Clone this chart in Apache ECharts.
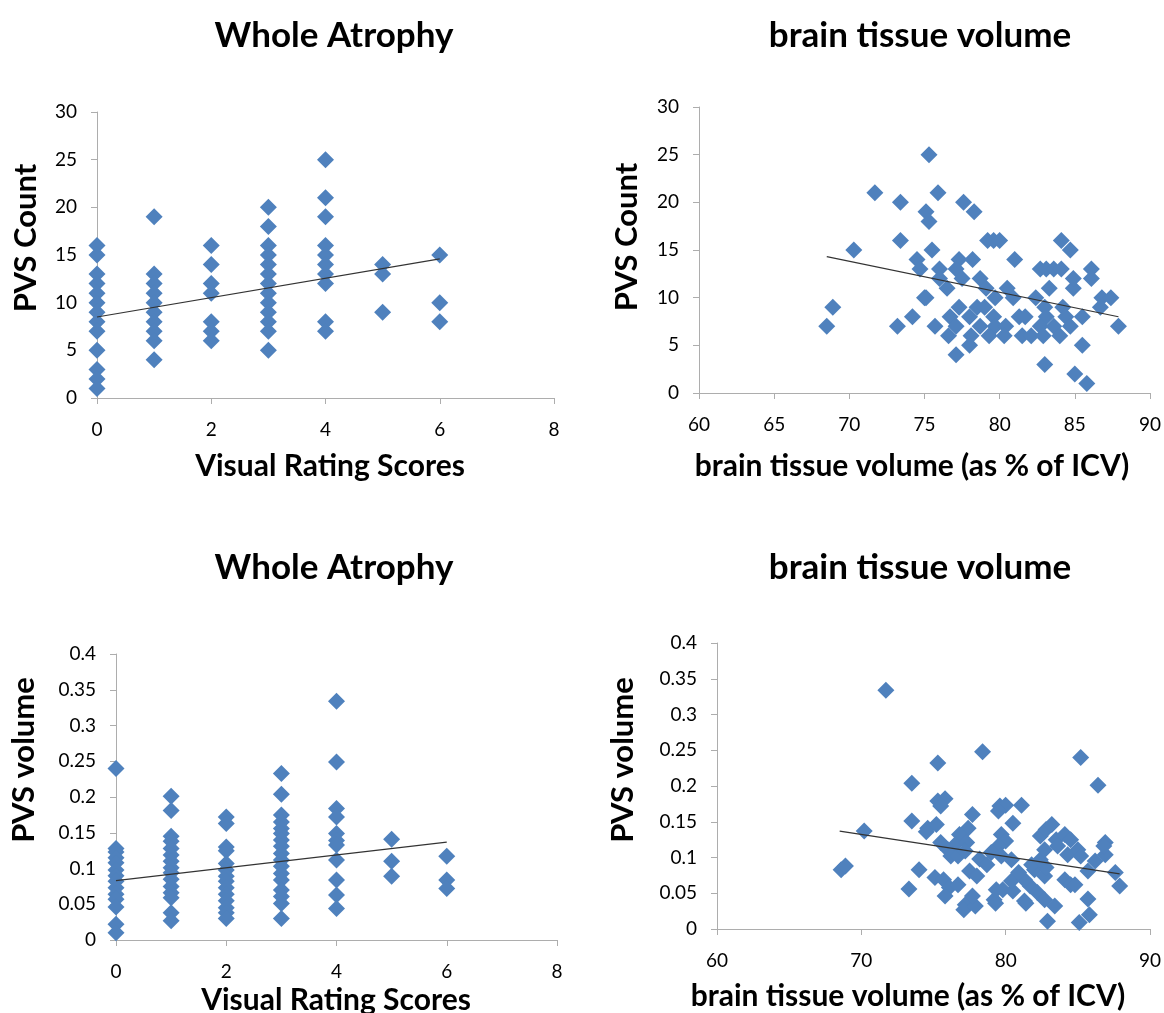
<!DOCTYPE html>
<html>
<head>
<meta charset="utf-8">
<script src="https://cdn.jsdelivr.net/npm/echarts@6/dist/echarts.min.js"></script>
<style>
html,body{margin:0;padding:0;background:#fff;}
#chart{width:1164px;height:1013px;}
</style>
</head>
<body>
<div id="chart"></div>
<script>
// ---- Panel titles / axis titles ----
const panelTitles = ['Whole Atrophy', 'brain tissue volume', 'Whole Atrophy', 'brain tissue volume'];
const xTitles = ['Visual Rating Scores', 'brain tissue volume (as % of ICV)', 'Visual Rating Scores', 'brain tissue volume (as % of ICV)'];
const yTitles = ['PVS Count', 'PVS Count', 'PVS volume', 'PVS volume'];

// ---- Top-left: PVS Count vs Visual Rating Scores ----
const countByRating = [
  [0,16],[0,15],[0,13],[0,12],[0,11],[0,10],[0,9],[0,8],[0,7],[0,5],[0,3],[0,2],[0,1],
  [1,19],[1,13],[1,12],[1,11],[1,10],[1,9],[1,8],[1,7],[1,6],[1,4],
  [2,16],[2,14],[2,12],[2,11],[2,8],[2,7],[2,6],
  [3,20],[3,18],[3,16],[3,15],[3,14],[3,13],[3,12],[3,11],[3,10],[3,9],[3,8],[3,7],[3,5],
  [4,25],[4,21],[4,19],[4,16],[4,15],[4,14],[4,13],[4,12],[4,8],[4,7],
  [5,14],[5,13],[5,9],
  [6,15],[6,10],[6,8]
];
const countByRatingTrend = [[0,8.5],[6,14.6]];

// ---- Top-right: PVS Count vs brain tissue volume ----
const countByBTV = [
  [68.5,7],[68.9,9],[70.3,15],[71.7,21],[73.2,7],[73.4,20],[73.4,16],[74.2,8],
  [74.5,14],[74.7,13],[75.0,10],[75.1,10],[75.3,25],[75.1,19],[75.3,18],[75.5,15],[75.9,21],[75.7,7],
  [76.0,13],[76.0,12],[76.5,11],[76.6,6],[77.1,4],[77.6,20],[78.3,19],
  [77.3,14],[78.2,14],[81.0,14],
  [77.1,13],[77.5,12],[78.7,12],
  [79.1,11],[80.5,11],[83.3,11],[84.9,11],
  [79.2,16],[79.6,16],[80.0,16],[84.1,16],[84.7,15],
  [82.7,13],[83.1,13],[83.6,13],[84.1,13],[86.1,13],[84.9,12],[86.1,12],
  [79.7,10],[80.9,10],[82.4,10],[86.8,10],[87.4,10],
  [77.3,9],[78.5,9],[79.0,9],[83.0,9],[84.2,9],[86.7,9],
  [76.7,8],[78.0,8],[79.6,8],[81.3,8],[81.7,8],[83.1,8],[84.4,8],[85.5,8],
  [77.1,7],[78.7,7],[79.7,7],[80.4,7],[82.7,7],[83.6,7],[84.7,7],[87.9,7],
  [78.1,6],[79.3,6],[80.3,6],[81.5,6],[82.1,6],[82.9,6],[84.0,6],
  [78.0,5],[85.5,5],[83.0,3],[85.0,2],[85.8,1]
];
const countByBTVTrend = [[68.5,14.3],[87.9,8.0]];

// ---- Bottom-left: PVS volume vs Visual Rating Scores ----
const volumeByRating = [
  [0,0.24],[0,0.128],[0,0.123],[0,0.115],[0,0.108],[0,0.098],[0,0.09],[0,0.082],[0,0.073],[0,0.064],[0,0.057],[0,0.046],[0,0.022],[0,0.01],
  [1,0.201],[1,0.181],[1,0.145],[1,0.138],[1,0.128],[1,0.119],[1,0.11],[1,0.101],[1,0.094],[1,0.085],[1,0.075],[1,0.066],[1,0.059],[1,0.038],[1,0.027],
  [2,0.172],[2,0.163],[2,0.13],[2,0.125],[2,0.107],[2,0.098],[2,0.089],[2,0.082],[2,0.073],[2,0.064],[2,0.055],[2,0.045],[2,0.038],[2,0.03],
  [3,0.233],[3,0.204],[3,0.175],[3,0.165],[3,0.156],[3,0.149],[3,0.14],[3,0.131],[3,0.121],[3,0.112],[3,0.103],[3,0.093],[3,0.084],[3,0.07],[3,0.061],[3,0.051],[3,0.03],
  [4,0.334],[4,0.249],[4,0.184],[4,0.172],[4,0.149],[4,0.139],[4,0.133],[4,0.112],[4,0.084],[4,0.063],[4,0.044],
  [5,0.141],[5,0.11],[5,0.089],
  [6,0.117],[6,0.084],[6,0.072]
];
const volumeByRatingTrend = [[0,0.083],[6,0.137]];

// ---- Bottom-right: PVS volume vs brain tissue volume ----
const volumeByBTV = [
  [71.7,0.334],[68.6,0.083],[68.9,0.088],[70.2,0.137],[73.5,0.204],[73.5,0.151],[73.3,0.056],[74.0,0.083],
  [75.3,0.232],[78.4,0.248],[85.2,0.240],[86.4,0.201],
  [75.3,0.179],[75.8,0.182],[75.5,0.172],
  [74.6,0.141],[75.2,0.146],[74.5,0.136],[77.7,0.160],
  [79.6,0.172],[80.0,0.173],[81.1,0.173],[79.5,0.165],[80.5,0.148],
  [77.4,0.141],[76.8,0.132],[76.5,0.118],[75.5,0.121],[76.0,0.111],[76.2,0.102],
  [77.3,0.121],[76.7,0.102],[77.2,0.109],
  [79.7,0.132],[80.0,0.123],[79.5,0.116],[79.0,0.107],[79.7,0.102],[80.4,0.097],
  [78.2,0.098],[78.7,0.090],[77.5,0.081],[78.0,0.074],
  [75.1,0.072],[75.7,0.069],[76.1,0.058],[76.7,0.062],[75.8,0.046],
  [77.2,0.034],[77.1,0.027],[77.9,0.032],[77.7,0.046],
  [79.2,0.041],[79.3,0.036],[79.8,0.055],[79.35,0.055],[80.5,0.053],[80.4,0.067],
  [81.3,0.039],[81.4,0.036],[81.7,0.060],[81.3,0.069],[80.9,0.079],[82.0,0.083],[81.8,0.090],
  [82.2,0.051],[82.7,0.041],[83.4,0.032],[82.9,0.011],
  [82.7,0.074],[82.8,0.086],[82.4,0.097],
  [82.4,0.130],[82.8,0.139],[83.2,0.146],[83.5,0.125],[84.1,0.132],[84.5,0.125],
  [82.7,0.111],[83.6,0.116],[84.3,0.104],[85.0,0.111],[85.2,0.102],
  [84.1,0.069],[84.5,0.062],[84.8,0.062],[85.7,0.042],[85.1,0.009],[85.8,0.020],
  [85.7,0.081],[86.2,0.095],[86.9,0.121],[86.9,0.104],[86.8,0.116],[87.6,0.079],[87.9,0.060]
];
const volumeByBTVTrend = [[68.5,0.137],[87.9,0.077]];

// ---- Axis ranges / tick labels ----
const ratingAxis = {min: 0, max: 8, interval: 2};
const btvAxisTop = {min: 60, max: 90, interval: 5};
const btvAxisBottom = {min: 60, max: 90, interval: 10};
const countAxis = {min: 0, max: 30, interval: 5};
const volumeAxis = {min: 0, max: 0.4, interval: 0.05};

const FONT = 'Lato, "Open Sans", sans-serif';
const AXIS_COLOR = '#ADADAD';
const MARK_COLOR = '#4F81BD';

const grids = [
  {left: 97, top: 112, width: 457, height: 286},
  {left: 699, top: 107, width: 452, height: 286},
  {left: 116, top: 654, width: 441, height: 286},
  {left: 717, top: 643, width: 435, height: 286}
];

function mkAxis(range, gridIndex, isY) {
  return Object.assign({
    type: 'value',
    gridIndex: gridIndex,
    splitLine: {show: false},
    axisLine: {show: true, onZero: false, lineStyle: {color: AXIS_COLOR, width: 1}},
    axisTick: {show: true, inside: false, length: 6, lineStyle: {color: AXIS_COLOR}},
    axisLabel: {color: '#000', fontFamily: FONT, fontSize: 19, margin: isY ? 20 : 22,
      formatter: function (v) { return String(Math.round(v * 1000) / 1000); }}
  }, range);
}

const xAxes = [mkAxis(ratingAxis, 0), mkAxis(btvAxisTop, 1), mkAxis(ratingAxis, 2), mkAxis(btvAxisBottom, 3)];
const yAxes = [mkAxis(countAxis, 0, true), mkAxis(countAxis, 1, true), mkAxis(volumeAxis, 2, true), mkAxis(volumeAxis, 3, true)];

const scatterSets = [countByRating, countByBTV, volumeByRating, volumeByBTV];
const trendSets = [countByRatingTrend, countByBTVTrend, volumeByRatingTrend, volumeByBTVTrend];

const series = [];
scatterSets.forEach(function (d, i) {
  series.push({
    type: 'scatter', xAxisIndex: i, yAxisIndex: i, data: d,
    symbol: 'diamond', symbolSize: 17,
    itemStyle: {color: MARK_COLOR, opacity: 1},
    silent: true, z: 2
  });
});
trendSets.forEach(function (d, i) {
  series.push({
    type: 'line', xAxisIndex: i, yAxisIndex: i, data: d,
    symbol: 'none', lineStyle: {color: '#333333', width: 1.2},
    silent: true, z: 3
  });
});

const titlePos = [[334, 36], [920, 36], [334, 568], [920, 568]];
const xTitlePos = [[330, 466], [912, 466], [336, 1000], [908, 996]];
const yTitlePos = [[26, 238], [627, 237], [24, 760], [623, 760]];

const graphics = [];
panelTitles.forEach(function (t, i) {
  graphics.push({type: 'text', x: titlePos[i][0], y: titlePos[i][1],
    style: {text: t, font: 'bold 35px ' + FONT, fill: '#000', textAlign: 'center', textVerticalAlign: 'middle'}});
});
xTitles.forEach(function (t, i) {
  graphics.push({type: 'text', x: xTitlePos[i][0], y: xTitlePos[i][1],
    style: {text: t, font: 'bold 30px ' + FONT, fill: '#000', textAlign: 'center', textVerticalAlign: 'middle'}});
});
yTitles.forEach(function (t, i) {
  graphics.push({type: 'text', x: yTitlePos[i][0], y: yTitlePos[i][1], rotation: Math.PI / 2,
    style: {text: t, font: 'bold 31px ' + FONT, fill: '#000', textAlign: 'center', textVerticalAlign: 'middle'}});
});

const chart = echarts.init(document.getElementById('chart'), null, {renderer: 'canvas'});
chart.setOption({
  animation: false,
  backgroundColor: '#fff',
  grid: grids,
  xAxis: xAxes,
  yAxis: yAxes,
  series: series,
  graphic: graphics
});
</script>
</body>
</html>
